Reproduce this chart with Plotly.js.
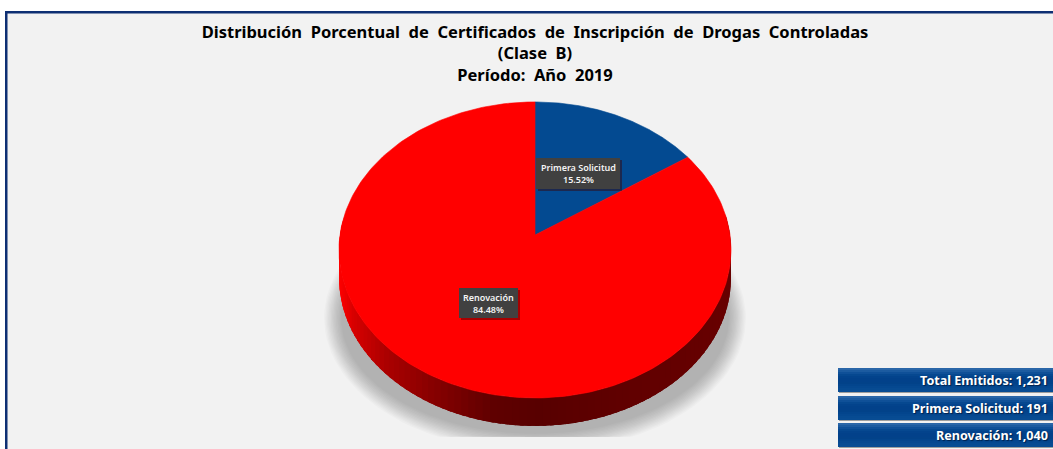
<!DOCTYPE html>
<html>
<head>
<meta charset="utf-8">
<script src="https://cdn.plot.ly/plotly-3.0.1.min.js"></script>
<style>html,body{margin:0;padding:0;background:#fff;overflow:hidden}#c{width:1053px;height:449px}</style>
</head>
<body>
<div id="c"></div>
<script>
const categories = ["Primera Solicitud", "Renovación"];
const values = [191, 1040];
const sliceColors = ["#034a91", "#ff0000"];
const totalLabel = "Total Emitidos";
const titleLines = ["Distribución&#160; Porcentual&#160; de&#160; Certificados&#160; de&#160; Inscripción&#160; de&#160; Drogas&#160; Controladas", "(Clase&#160; B)", "Período:&#160; Año&#160; 2019"];
const fmt = n => n.toLocaleString("en-US");
const total = values.reduce((a, b) => a + b, 0);

// pie projection (tilted disc with perspective), screen pixels
const CX = 535, CY = 235, Q = 195, P = 146.5, K = 0.101, DEPTH = 28;
function proj(deg, r) {
  const t = deg * Math.PI / 180, u = r * Math.sin(t), v = r * Math.cos(t), d = 1 + K * v;
  return [CX + Q * u / d, CY - P * v / d];
}
const traces = [];
function poly(xs, ys, color, lw) {
  traces.push({type: "scatter", mode: "lines", x: xs, y: ys, fill: "toself", fillcolor: color,
    line: {color: color, width: lw}, hoverinfo: "skip", showlegend: false});
}
// ground shadow
const SHADOW_FLOOR = 437;
for (let i = 0; i < 14; i++) {
  const f = i / 13, rx = 211 - 17 * f, ry = 134 - 18 * f, xs = [], ys = [];
  for (let a = 0; a <= 360; a += 3) {
    const t = a * Math.PI / 180;
    xs.push(535 + rx * Math.sin(t));
    ys.push(Math.min(SHADOW_FLOOR, 318 - ry * Math.cos(t)));
  }
  poly(xs, ys, "rgba(0,0,0,0.02)", 0);
}
// side wall strips, painted left to right, each overlapping the previous one
const wallStops = [[339, [255, 0, 0]], [352, [215, 0, 0]], [385, [170, 0, 0]], [430, [135, 0, 0]], [490, [95, 0, 0]], [535, [88, 0, 0]], [620, [96, 0, 0]], [735, [104, 0, 0]]];
function wallColor(x) {
  for (let i = 1; i < wallStops.length; i++) {
    const [x0, c0] = wallStops[i - 1], [x1, c1] = wallStops[i];
    if (x <= x1) {
      const f = Math.max(0, (x - x0) / (x1 - x0));
      return "rgb(" + c0.map((c, j) => Math.round(c + (c1[j] - c) * f)).join(",") + ")";
    }
  }
  return "rgb(104,0,0)";
}
for (let a = 278; a > 82; a -= 2) {
  const xs = [], ys = [], end = Math.max(82, a - 5);
  for (let b = a; b >= end; b -= 1) { const p = proj(b, 1); xs.push(p[0]); ys.push(p[1]); }
  for (let b = end; b <= a; b += 1) { const p = proj(b, 1); xs.push(p[0]); ys.push(p[1] + DEPTH); }
  poly(xs, ys, wallColor(proj(a, 1)[0]), 0);
}
// top face slices from the data
let start = 0;
values.forEach((v, i) => {
  const sweep = v / total * 360, xs = [CX], ys = [CY];
  for (let k = 0; k <= 240; k++) { const p = proj(start + sweep * k / 240, 1); xs.push(p[0]); ys.push(p[1]); }
  xs.push(CX); ys.push(CY);
  poly(xs, ys, sliceColors[i], 0.6);
  traces[traces.length - 1].name = categories[i];
  start += sweep;
});

const shapes = [
  {type: "rect", layer: "below", x0: 5, x1: 1060, y0: 11, y1: 460, fillcolor: "#0e2f73", line: {width: 0}},
  {type: "rect", layer: "below", x0: 7.5, x1: 1060, y0: 13.5, y1: 460, fillcolor: "#f2f2f2", line: {width: 0}}
];
const annotations = [];
// stat panels: gradient bands painted top to bottom, each running to the panel foot
const panelText = [totalLabel + ": " + fmt(total)].concat(categories.map((c, i) => c + ": " + fmt(values[i])));
const panelTop = [368, 395.5, 422.5];
const bandColors = ["#2a66a8", "#1c5ba0", "#0f5098", "#064890", "#03438c", "#02418a", "#02418a", "#024289", "#03458d", "#054890", "#074b92", "#084c93"];
panelText.forEach((t, i) => {
  const y0 = Math.round(panelTop[i]);
  shapes.push({type: "rect", x0: 839, x1: 1060, y0: y0 + 1, y1: y0 + 25, fillcolor: "rgba(90,90,90,0.55)", line: {width: 0}});
  bandColors.forEach((col, b) => {
    shapes.push({type: "rect", x0: 838, x1: 1060, y0: y0 + b * 2, y1: y0 + 24, fillcolor: col, line: {width: 0}});
  });
  annotations.push({x: 1050, y: y0 + 12.5, xref: "x", yref: "y", xanchor: "right", yanchor: "middle", showarrow: false, text: "<b>" + t + "</b>",
    font: {family: "Noto Sans, sans-serif", size: 12.6, color: "#fff", shadow: "1px 1px 1px #00204a"}});
});
// data labels
const labelBox = [[536, 620, 158, 189], [459, 518, 288, 318]];
categories.forEach((c, i) => {
  const [x0, x1, y0, y1] = labelBox[i];
  shapes.push({type: "rect", x0: x0 + 2, x1: x1 + 2, y0: y0 + 2, y1: y1 + 2, fillcolor: "rgba(60,0,0,0.45)", line: {width: 0}});
  shapes.push({type: "rect", x0: x0, x1: x1, y0: y0, y1: y1, fillcolor: "#404040", line: {width: 0}});
  annotations.push({x: (x0 + x1) / 2, y: (y0 + y1) / 2, xref: "x", yref: "y", xanchor: "center", yanchor: "middle", showarrow: false, align: "center",
    text: c + "<br>" + (values[i] / total * 100).toFixed(2) + "%",
    font: {family: "Noto Sans, sans-serif", size: 9, color: "#f4f4f4", weight: 600}});
});

Plotly.newPlot("c", traces, {
  width: 1053, height: 449,
  margin: {l: 0, r: 0, t: 0, b: 0},
  paper_bgcolor: "#ffffff", plot_bgcolor: "rgba(0,0,0,0)",
  showlegend: false,
  title: {text: "<b>" + titleLines.join("<br>") + "</b>", x: 535 / 1053, xanchor: "center", y: 1 - 38 / 449, yanchor: "top",
    font: {family: "Noto Sans, sans-serif", size: 16.5, color: "#000"}},
  xaxis: {visible: false, range: [0, 1053], fixedrange: true},
  yaxis: {visible: false, range: [449, 0], fixedrange: true},
  shapes: shapes,
  annotations: annotations
}, {displayModeBar: false, staticPlot: true});
</script>
</body>
</html>
